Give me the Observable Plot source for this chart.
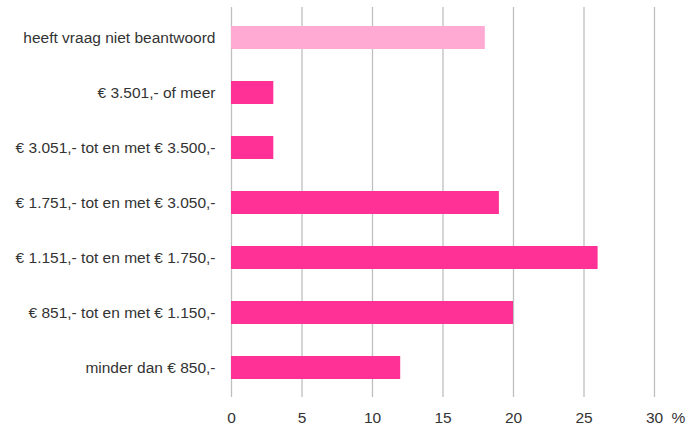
<!DOCTYPE html>
<html>
<head>
<meta charset="utf-8">
<script src="https://cdn.jsdelivr.net/npm/d3@7"></script>
<script src="https://cdn.jsdelivr.net/npm/@observablehq/plot@0.6"></script>
<style>
  html, body { margin: 0; padding: 0; background: #fff; }
  #chart { width: 686px; height: 425px; }
</style>
</head>
<body>
<div id="chart"></div>
<script>
const categories = [
  "heeft vraag niet beantwoord",
  "€ 3.501,- of meer",
  "€ 3.051,- tot en met € 3.500,-",
  "€ 1.751,- tot en met € 3.050,-",
  "€ 1.151,- tot en met € 1.750,-",
  "€ 851,- tot en met € 1.150,-",
  "minder dan € 850,-"
];
const values = [18, 3, 3, 19, 26, 20, 12];
const barColors = ["#ffaad3", "#ff3096", "#ff3096", "#ff3096", "#ff3096", "#ff3096", "#ff3096"];
const xTicks = [0, 5, 10, 15, 20, 25, 30];
const unitLabel = "%";

const data = categories.map((c, i) => ({category: c, value: values[i], color: barColors[i]}));

const chart = Plot.plot({
  width: 686,
  height: 425,
  marginLeft: 231,
  marginRight: 32,
  marginTop: 7,
  marginBottom: 28,
  style: {fontFamily: "'Liberation Sans', Arial, sans-serif", fontSize: "15.5px", color: "#333"},
  x: {domain: [0, 30], ticks: xTicks, label: null},
  y: {domain: categories, paddingInner: 0.59, paddingOuter: 0.295, label: null},
  marks: [
    Plot.ruleX(xTicks, {stroke: "#bfbfbf", strokeWidth: 1.3}),
    Plot.barX(data, {x: "value", y: "category", fill: "color"}),
    Plot.axisX({ticks: xTicks, tickSize: 0, tickPadding: 14, fontSize: 15.5, fill: "#333", label: null}),
    Plot.axisY({tickSize: 0, tickPadding: 16, fontSize: 15.5, fill: "#333", label: null}),
    Plot.text([unitLabel], {frameAnchor: "bottom-right", dx: 17, dy: 21, textAnchor: "start", lineAnchor: "middle", fontSize: 15.5, fill: "#333", text: d => d})
  ]
});
document.getElementById("chart").appendChild(chart);
</script>
</body>
</html>
